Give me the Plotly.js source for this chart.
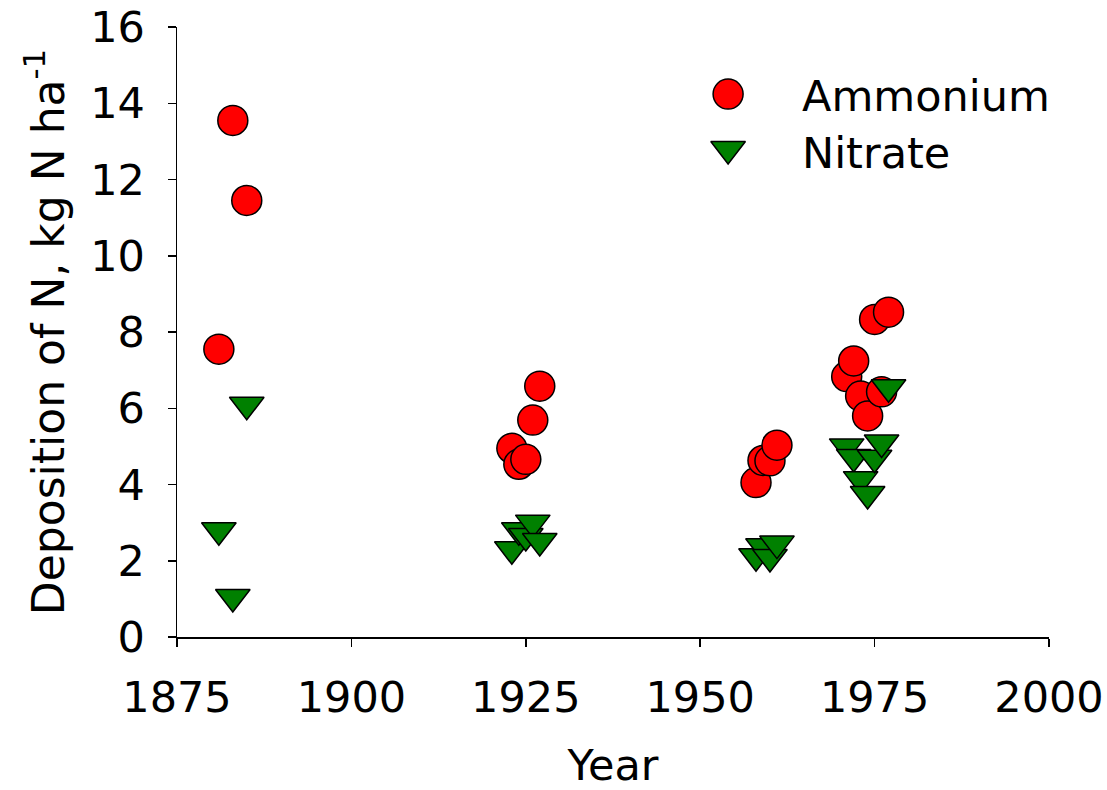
<!DOCTYPE html>
<html>
<head>
<meta charset="utf-8">
<script src="https://cdn.plot.ly/plotly-3.0.1.min.js"></script>
<style>html,body{margin:0;padding:0;background:#fff;}#chart{width:1107px;height:790px;}</style>
</head>
<body>
<div id="chart"></div>
<script>
// Data
const ammoniumYears  = [1881, 1883, 1885, 1923, 1924, 1925, 1926, 1927, 1958, 1959, 1960, 1961, 1971, 1972, 1973, 1974, 1975, 1976, 1977];
const ammoniumValues = [7.55, 13.55, 11.45, 4.95, 4.53, 4.66, 5.69, 6.58, 4.05, 4.63, 4.62, 5.03, 6.83, 7.24, 6.32, 5.8, 8.33, 6.43, 8.52];
const nitrateYears   = [1881, 1883, 1885, 1923, 1924, 1925, 1926, 1927, 1958, 1959, 1960, 1961, 1971, 1972, 1973, 1974, 1975, 1976, 1977];
const nitrateValues  = [2.8, 1.05, 6.09, 2.3, 2.8, 2.65, 3.0, 2.52, 2.12, 2.38, 2.1, 2.45, 5.0, 4.72, 4.14, 3.75, 4.7, 5.1, 6.55];
const seriesNames = ["Ammonium", "Nitrate"];
const xTicks = [1875, 1900, 1925, 1950, 1975, 2000];
const yTicks = [0, 2, 4, 6, 8, 10, 12, 14, 16];

const FONT = "DejaVu Sans, Verdana, sans-serif";
const FS = 43;
const ammStyle = {symbol: "circle", color: "#ff0000", size: 30, line: {color: "#000", width: 1.5}};
const nitStyle = {symbol: "triangle-down", color: "#008000", size: 30, line: {color: "#000", width: 1.5}};

const traces = [
  {x: ammoniumYears, y: ammoniumValues, name: seriesNames[0], type: "scatter", mode: "markers",
   marker: ammStyle, showlegend: false, cliponaxis: false},
  {x: nitrateYears, y: nitrateValues, name: seriesNames[1], type: "scatter", mode: "markers",
   marker: nitStyle, showlegend: false, cliponaxis: false},
  // legend symbols on a hidden overlay axis
  {x: [0.632], y: [0.89], xaxis: "x2", yaxis: "y2", type: "scatter", mode: "markers",
   marker: ammStyle, showlegend: false, hoverinfo: "skip"},
  {x: [0.632], y: [0.80], xaxis: "x2", yaxis: "y2", type: "scatter", mode: "markers",
   marker: nitStyle, showlegend: false, hoverinfo: "skip"}
];

const layout = {
  width: 1107, height: 790,
  paper_bgcolor: "#fff", plot_bgcolor: "#fff",
  margin: {l: 177, r: 58, t: 27, b: 153},
  font: {family: FONT, color: "#000", size: FS},
  showlegend: false,
  xaxis: {
    range: [1875, 2000], tickvals: xTicks, ticktext: xTicks.map(String),
    showline: true, linecolor: "#000", linewidth: 1.5, mirror: false,
    ticks: "outside", ticklen: 8, tickwidth: 1.5, tickcolor: "#000",
    showgrid: false, zeroline: false,
    tickfont: {family: FONT, size: FS, color: "#000"},
    ticklabelstandoff: 14,
    title: {text: "Year", font: {family: FONT, size: FS, color: "#000"}, standoff: 32},
    automargin: false
  },
  yaxis: {
    range: [0, 16], tickvals: yTicks, ticktext: yTicks.map(String),
    showline: true, linecolor: "#000", linewidth: 1.5, mirror: false,
    ticks: "outside", ticklen: 8, tickwidth: 1.5, tickcolor: "#000",
    showgrid: false, zeroline: false,
    tickfont: {family: FONT, size: FS, color: "#000"},
    ticklabelstandoff: 14,
    title: {text: "Deposition of N, kg N ha<sup>-1</sup>", font: {family: FONT, size: 44, color: "#000"}, standoff: 12},
    automargin: false
  },
  xaxis2: {overlaying: "x", range: [0, 1], visible: false, fixedrange: true},
  yaxis2: {overlaying: "y", range: [0, 1], visible: false, fixedrange: true},
  annotations: [
    {xref: "x2", yref: "y2", x: 0.715, y: 0.887, xanchor: "left", yanchor: "middle", showarrow: false,
     text: seriesNames[0], font: {family: FONT, size: FS, color: "#000"}},
    {xref: "x2", yref: "y2", x: 0.715, y: 0.793, xanchor: "left", yanchor: "middle", showarrow: false,
     text: seriesNames[1], font: {family: FONT, size: FS, color: "#000"}}
  ]
};

Plotly.newPlot("chart", traces, layout, {staticPlot: true, displayModeBar: false});
</script>
</body>
</html>
